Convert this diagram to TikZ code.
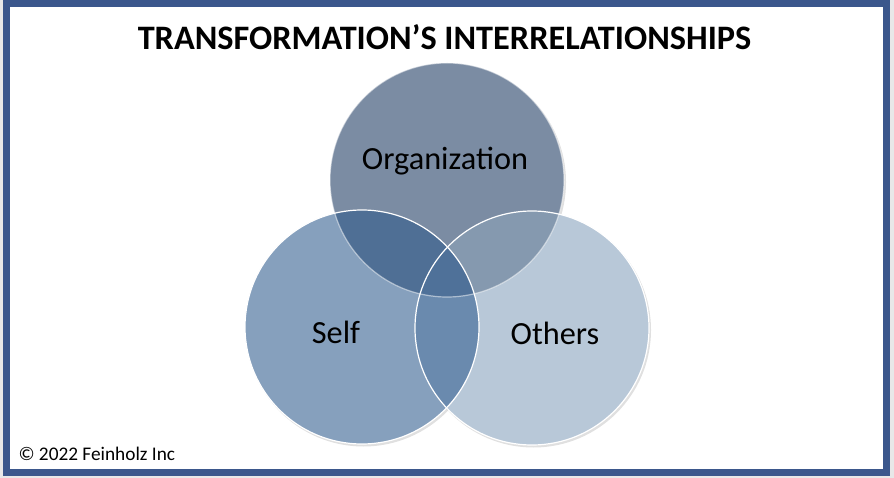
\documentclass[tikz,border=0pt]{standalone}
\usepackage{fontspec}
\setmainfont{Carlito}
\usetikzlibrary{positioning}

\definecolor{framebl}{RGB}{59,87,140}
\definecolor{orgfill}{RGB}{123,140,163}
\definecolor{selffill}{RGB}{134,160,189}
\definecolor{othfill}{RGB}{184,200,216}
\definecolor{orgself}{RGB}{79,111,149}
\definecolor{orgoth}{RGB}{133,153,175}
\definecolor{selfoth}{RGB}{106,138,174}
\definecolor{allthree}{RGB}{79,113,153}

\begin{document}
\begin{tikzpicture}[
  x=1pt, y=-1pt,
  ring/.style  = {circle, minimum size=234pt, inner sep=0pt},
  rim/.style   = {draw=white, line width=1.2pt},
  lbl/.style   = {font=\fontsize{32.3}{38}\selectfont, anchor=base},
  title/.style = {font=\bfseries\fontsize{34.3}{40}\selectfont, anchor=base},
]
\useasboundingbox (0,0) rectangle (894,478);
\fill[black!9] (0,0) rectangle (894,478);
\draw[framebl, line width=7pt, fill=white] (6.5,3.8) rectangle (886,472.5);

\node[title] (head) at (444.5,49.5) {TRANSFORMATION’S INTERRELATIONSHIPS};

% the three circles
\fill[black, opacity=0.12] (448.5,182) circle (117.5pt);
\node[ring, fill=orgfill] (org) at (447,180) {};
\fill[black, opacity=0.12] (363.5,329) circle (117.5pt);
\node[ring, fill=selffill] (self) at (362,327) {};
\fill[black, opacity=0.12] (533.5,330) circle (117.5pt);
\node[ring, fill=othfill] (others) at (532,328) {};

% overlaps
\begin{scope}
  \clip (org.center) circle (117pt);
  \fill[orgself] (self.center) circle (117pt);
  \fill[orgoth] (others.center) circle (117pt);
\end{scope}
\begin{scope}
  \clip (self.center) circle (117pt);
  \fill[selfoth] (others.center) circle (117pt);
  \clip (others.center) circle (117pt);
  \fill[allthree] (org.center) circle (117pt);
\end{scope}

% outlines
\draw[rim, opacity=0.5] (org.center) circle (117pt);
\draw[rim] (self.center) circle (117pt);
\draw[rim] (others.center) circle (117pt);

\node[lbl] (orglbl) at (445,170) {Organization};
\node[lbl] (selflbl) at (336,343) {Self};
\node[lbl] (othlbl) at (555,344) {Others};

\node[anchor=base west, font=\fontsize{19.3}{22}\selectfont] (copy) at (15,460) {© 2022 Feinholz Inc};
\end{tikzpicture}
\end{document}
